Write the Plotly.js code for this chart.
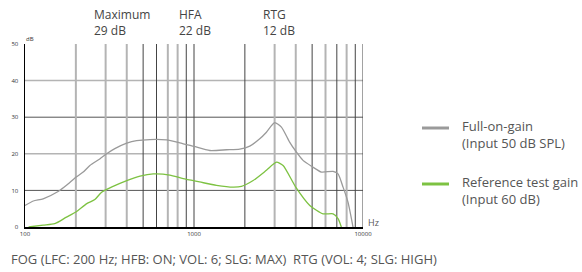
<!DOCTYPE html>
<html><head><meta charset="utf-8">
<script src="https://cdn.plot.ly/plotly-3.0.1.min.js"></script>
<style>html,body{margin:0;padding:0;background:#fff}#c{width:582px;height:272px}</style>
</head><body><div id="c"></div>
<script>
// Full-on-gain (Input 50 dB SPL)
const fogFreq = [100,112,128,157,176,200,221,242,277,304,340,400,457,548,688,824,1000,1241,1557,1866,2138,2449,2683,3000,3290,3680,4000,4416,5000,5676,6653,7117,7620,8150,8728];
const fogGain = [5.9,7.1,7.7,9.7,11.4,13.6,15,16.8,18.6,20,21.4,22.9,23.6,23.9,23.8,23,22,20.9,21.1,21.3,22.1,24.1,25.9,28.5,27.3,23.2,20.7,18.2,16.5,15,15.2,14.5,10.9,6.8,0];
// Reference test gain (Input 60 dB)
const rtgFreq = [105,128,150,176,200,232,259,284,332,400,479,574,719,863,1080,1358,1703,1909,2239,2683,3076,3366,4000,4842,5806,6653,7117,7447];
const rtgGain = [0,0.5,0.9,2.7,4.1,6.4,7.5,9.5,11.1,12.7,13.9,14.5,14.2,13.2,12.3,11.4,10.9,11.1,12.7,15.5,17.7,16.8,10.9,5.9,3.6,3.6,2.3,0];

const headerLabels = ["Maximum","HFA","RTG"];
const headerValues = ["29 dB","22 dB","12 dB"];
const legendNames = [["Full-on-gain","(Input 50 dB SPL)"],["Reference test gain","(Input 60 dB)"]];
const footerText = "FOG (LFC: 200 Hz; HFB: ON; VOL: 6; SLG: MAX)  RTG (VOL: 4; SLG: HIGH)";
const xTicks = [100,1000,10000];
const yTicks = [0,10,20,30,40,50];

const lightV = [200,300,400,700,800,3000,4000,6000,8000];
const darkV = [500,600,900,1000,2000,5000,7000,9000,10000];
const lightH = [20,40];
const darkH = [10,30];

const GRAY = '#9a9a9a', GREEN = '#7dc242', TXT = '#555';
const FONT = 'Open Sans, Noto Sans, sans-serif';
// pixel -> paper helpers (plot area: x 25..363, y 44..227)
const px = v => (v-25)/338, py = v => (227-v)/183;

const shapes = [];
lightH.forEach(v=>shapes.push({type:'line',xref:'x',yref:'y',x0:100,x1:10000,y0:v,y1:v,line:{color:'#b4b4b4',width:1.5},layer:'below'}));
darkH.forEach(v=>shapes.push({type:'line',xref:'x',yref:'y',x0:100,x1:10000,y0:v,y1:v,line:{color:'#555',width:1},layer:'below'}));
lightV.forEach(v=>shapes.push({type:'line',xref:'x',yref:'y',x0:v,x1:v,y0:0,y1:50,line:{color:'#b4b4b4',width:2},layer:'below'}));
darkV.forEach(v=>shapes.push({type:'line',xref:'x',yref:'y',x0:v,x1:v,y0:0,y1:50,line:{color:'#444',width:1},layer:'below'}));
// legend swatches
shapes.push({type:'line',xref:'paper',yref:'paper',x0:px(422),x1:px(449),y0:py(128),y1:py(128),line:{color:GRAY,width:3}});
shapes.push({type:'line',xref:'paper',yref:'paper',x0:px(422),x1:px(449),y0:py(184),y1:py(184),line:{color:GREEN,width:3}});

const ann = [];
const headerX = [92, 177, 261];
headerLabels.forEach((t,i)=>{
  ann.push({xref:'paper',yref:'paper',x:px(headerX[i]),y:py(22),text:t+'<br>'+headerValues[i],align:'left',showarrow:false,xanchor:'left',yanchor:'middle',font:{size:12,color:'#444',family:FONT}});
});
const legY = [134, 190];
legendNames.forEach((n,i)=>{
  ann.push({xref:'paper',yref:'paper',x:px(460),y:py(legY[i]),text:n.join('<br>'),align:'left',showarrow:false,xanchor:'left',yanchor:'middle',font:{size:13,color:TXT,family:FONT}});
});
ann.push({xref:'paper',yref:'paper',x:px(9),y:py(259),text:footerText,showarrow:false,xanchor:'left',yanchor:'middle',font:{size:13,color:TXT,family:FONT}});
ann.push({xref:'paper',yref:'paper',x:px(366),y:py(222),text:'Hz',showarrow:false,xanchor:'left',yanchor:'middle',font:{size:9,color:TXT,family:FONT}});
ann.push({xref:'paper',yref:'paper',x:px(24),y:py(39),text:'dB',showarrow:false,xanchor:'left',yanchor:'middle',font:{size:6,color:'#333',family:FONT}});

const data = [
  {x:fogFreq,y:fogGain,type:'scatter',mode:'lines',line:{color:GRAY,width:1.3,shape:'spline',smoothing:0.6},showlegend:false,hoverinfo:'skip'},
  {x:rtgFreq,y:rtgGain,type:'scatter',mode:'lines',line:{color:GREEN,width:1.3,shape:'spline',smoothing:0.6},showlegend:false,hoverinfo:'skip'}
];
const layout = {
  width:582,height:272,margin:{l:25,r:219,t:44,b:45},
  paper_bgcolor:'#fff',plot_bgcolor:'#fff',
  xaxis:{type:'log',range:[2,4],showgrid:false,zeroline:false,showline:true,linecolor:'#000',linewidth:1.5,
    tickvals:xTicks,ticktext:xTicks.map(String),ticks:'',tickfont:{size:6,color:'#333',family:FONT}},
  yaxis:{range:[0,50],showgrid:false,zeroline:false,showline:true,linecolor:'#000',linewidth:1.5,
    tickvals:yTicks,ticks:'',tickfont:{size:6,color:'#333',family:FONT},ticklabelstandoff:4},
  shapes:shapes,annotations:ann,showlegend:false
};
Plotly.newPlot('c',data,layout,{staticPlot:true,displayModeBar:false});
</script></body></html>
